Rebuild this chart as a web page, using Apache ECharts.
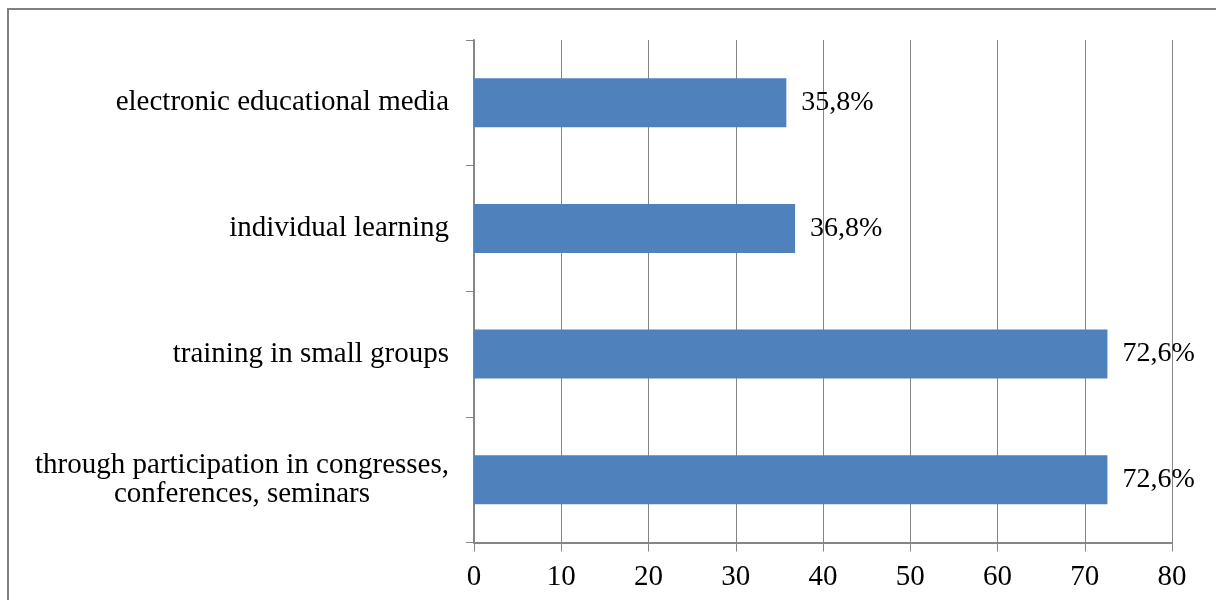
<!DOCTYPE html>
<html>
<head>
<meta charset="utf-8">
<script src="https://cdn.jsdelivr.net/npm/echarts@6/dist/echarts.min.js"></script>
<style>
  html, body { margin: 0; padding: 0; background: #fff; }
  #chart { width: 1216px; height: 600px; }
</style>
</head>
<body>
<div id="chart"></div>
<script>
// Forms of continuing education, listed top to bottom
const categories = [
  'electronic educational media',
  'individual learning',
  'training in small groups',
  'through participation in congresses,\nconferences, seminars'
];
// Share of respondents, percent
const shares = [35.8, 36.8, 72.6, 72.6];
// Value axis ticks
const axisMin = 0;
const axisMax = 80;
const axisStep = 10;

const serif = '"Liberation Serif", "Times New Roman", serif';
const grey = '#868686';

const chart = echarts.init(document.getElementById('chart'), null, { renderer: 'canvas' });

chart.setOption({
  animation: false,
  backgroundColor: '#fff',
  graphic: [{
    type: 'rect',
    shape: { x: 8, y: 9, width: 1400, height: 800 },
    style: { fill: 'none', stroke: '#808080', lineWidth: 2 },
    silent: true
  }],
  grid: { left: 474, right: 44, top: 40, bottom: 57.5, containLabel: false },
  xAxis: {
    type: 'value',
    min: axisMin,
    max: axisMax,
    interval: axisStep,
    axisLine: { show: true, lineStyle: { color: grey, width: 2 } },
    axisTick: { show: true, length: 9, lineStyle: { color: grey, width: 1 } },
    splitLine: { show: true, lineStyle: { color: grey, width: 1 } },
    axisLabel: {
      margin: 20,
      fontFamily: serif,
      fontSize: 29,
      color: '#000'
    }
  },
  yAxis: {
    type: 'category',
    inverse: true,
    data: categories,
    axisLine: { show: true, lineStyle: { color: grey, width: 2 } },
    axisTick: { show: true, length: 8, lineStyle: { color: grey, width: 1 } },
    splitLine: { show: false },
    axisLabel: {
      margin: 25,
      formatter: function (v) {
        return v.split('\n').map(function (s) { return '{c|' + s + '}'; }).join('\n');
      },
      rich: {
        c: {
          align: 'center',
          fontFamily: serif,
          fontSize: 29,
          lineHeight: 29,
          color: '#000'
        }
      }
    }
  },
  series: [{
    type: 'bar',
    data: shares,
    barWidth: 49,
    itemStyle: { color: '#4F81BD' },
    label: {
      show: true,
      position: 'right',
      distance: 15,
      fontFamily: serif,
      fontSize: 28,
      color: '#000',
      formatter: function (p) {
        return p.value.toFixed(1).replace('.', ',') + '%';
      }
    }
  }]
});
</script>
</body>
</html>
